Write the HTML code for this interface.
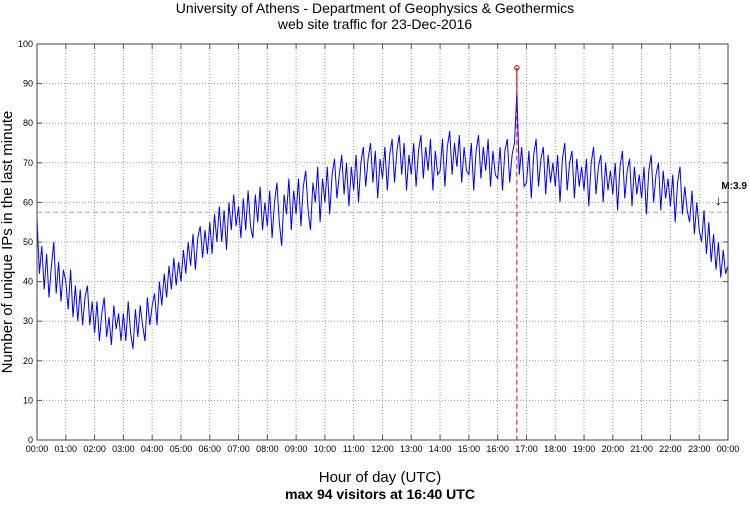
<!DOCTYPE html>
<html><head><meta charset="utf-8"><style>
body{margin:0;background:#fff;width:750px;height:504px;overflow:hidden;font-family:"Liberation Sans",sans-serif}
</style></head><body>
<svg id="chart" width="750" height="504" xmlns="http://www.w3.org/2000/svg" font-family="Liberation Sans, sans-serif">
<text x="375" y="13" text-anchor="middle" font-size="14">University of Athens - Department of Geophysics &amp; Geothermics</text>
<text x="375" y="29" text-anchor="middle" font-size="14">web site traffic for 23-Dec-2016</text>
<text transform="translate(12,242) rotate(-90)" text-anchor="middle" font-size="15">Number of unique IPs in the last minute</text>
<text x="380" y="482" text-anchor="middle" font-size="15">Hour of day (UTC)</text>
<text x="380" y="499" text-anchor="middle" font-size="14" font-weight="bold">max 94 visitors at 16:40 UTC</text>
<g id="grid"></g><g id="series"></g><g id="axes"></g>
</svg>
<script>
const yTicks=[0,10,20,30,40,50,60,70,80,90,100];
const xTickLabels=["00:00","01:00","02:00","03:00","04:00","05:00","06:00","07:00","08:00","09:00","10:00","11:00","12:00","13:00","14:00","15:00","16:00","17:00","18:00","19:00","20:00","21:00","22:00","23:00","00:00"];
const meanLevel=57.5;
const maxValue=94;
const maxMinute=1000;
const markerLabel="M:3.9";
const markerMinute=1420;
const visitors=[
56,42,49,38,47,36,44,50,37,45,35,43,
40,33,43,31,39,30,38,29,36,39,29,35,
27,35,25,32,36,26,31,24,34,28,32,25,
32,25,35,27,23,33,26,34,29,25,36,29,
34,37,29,40,34,42,36,44,38,46,39,45,
40,48,42,50,44,52,43,51,54,46,53,47,
55,47,57,50,59,50,58,48,60,53,62,54,
59,51,61,53,63,54,51,62,55,64,53,60,
54,63,51,60,65,55,49,62,57,66,53,63,
57,66,54,64,68,58,53,65,60,69,55,66,
60,69,57,67,71,61,67,72,62,70,59,69,
63,72,60,70,74,64,71,75,65,73,61,71,
66,74,63,72,76,65,73,77,67,75,63,72,
67,75,64,73,77,66,74,68,76,63,73,67,
68,76,64,74,78,67,75,69,77,65,74,68,
67,75,63,73,77,66,74,68,76,64,73,67,
66,74,63,73,76,65,72,75,88,67,74,64,
65,73,61,72,76,64,71,74,62,72,65,70,
64,72,60,71,75,63,70,73,61,71,64,69,
63,71,59,70,74,62,69,72,60,70,63,68,
62,70,58,69,73,61,68,71,59,69,62,67,
61,69,57,68,72,60,67,70,58,68,61,66,
59,67,55,65,69,57,64,58,55,63,52,60,
53,50,58,47,55,45,52,43,50,41,48,42,44];
const stepMin=5;
const L=37,R=728,T=44,B=440;
const xS=m=>L+(R-L)*m/1440;
const yS=v=>B-(B-T)*v/100;
const NS="http://www.w3.org/2000/svg";
function mk(tag,attrs,parent){const e=document.createElementNS(NS,tag);for(const k in attrs)e.setAttribute(k,attrs[k]);parent.appendChild(e);return e;}
const grid=document.getElementById('grid'),axes=document.getElementById('axes'),ser=document.getElementById('series');
yTicks.forEach(v=>{
 const g=mk('line',{x1:L,x2:R,y1:yS(v),y2:yS(v),stroke:'#999','stroke-dasharray':'1,2','stroke-width':1},grid);
 
 
 const t=mk('text',{x:L-4,y:yS(v)+3,'text-anchor':'end','font-size':9},axes);t.textContent=v;
 
 
 mk('line',{x1:L,x2:L+5,y1:yS(v),y2:yS(v),stroke:'#555'},axes);
 mk('line',{x1:R,x2:R-5,y1:yS(v),y2:yS(v),stroke:'#555'},axes);
});
xTickLabels.forEach((s,i)=>{
 const x=xS(i*60);
 const g=mk('line',{x1:x,x2:x,y1:T,y2:B,stroke:'#999','stroke-dasharray':'1,2'},grid);
 
 
 const t=mk('text',{x:x,y:B+12,'text-anchor':'middle','font-size':9},axes);t.textContent=s;
 
 
 mk('line',{x1:x,x2:x,y1:B,y2:B-5,stroke:'#555'},axes);
 mk('line',{x1:x,x2:x,y1:T,y2:T+5,stroke:'#555'},axes);
});
const frame=mk('rect',{x:L,y:T,width:R-L,height:B-T,fill:'none',stroke:'#444'},axes);


const mean=mk('line',{x1:L,x2:R,y1:yS(meanLevel),y2:yS(meanLevel),stroke:'#aaa','stroke-dasharray':'5,3'},ser);


const pts=visitors.map((v,i)=>xS(i*stepMin).toFixed(1)+','+yS(v).toFixed(1)).join(' ');
const line=mk('polyline',{points:pts,fill:'none',stroke:'#0000ff','stroke-width':1},ser);


const mx=xS(maxMinute);
const stem=mk('line',{x1:mx,x2:mx,y1:yS(maxValue),y2:B,stroke:'#d00','stroke-dasharray':'5,3'},ser);


mk('line',{x1:mx,x2:mx,y1:yS(maxValue),y2:yS(88),stroke:'#d00'},ser);
const c=mk('circle',{cx:mx,cy:yS(maxValue),r:2.2,fill:'none',stroke:'#d00'},ser);


const ex=xS(markerMinute);
const ml=mk('text',{x:ex+3,y:189,'font-size':10,'font-weight':'bold'},ser);ml.textContent=markerLabel;


const ar=mk('text',{x:ex,y:205,'font-size':14,'text-anchor':'middle'},ser);ar.textContent='↓';


</script>
</body></html>
